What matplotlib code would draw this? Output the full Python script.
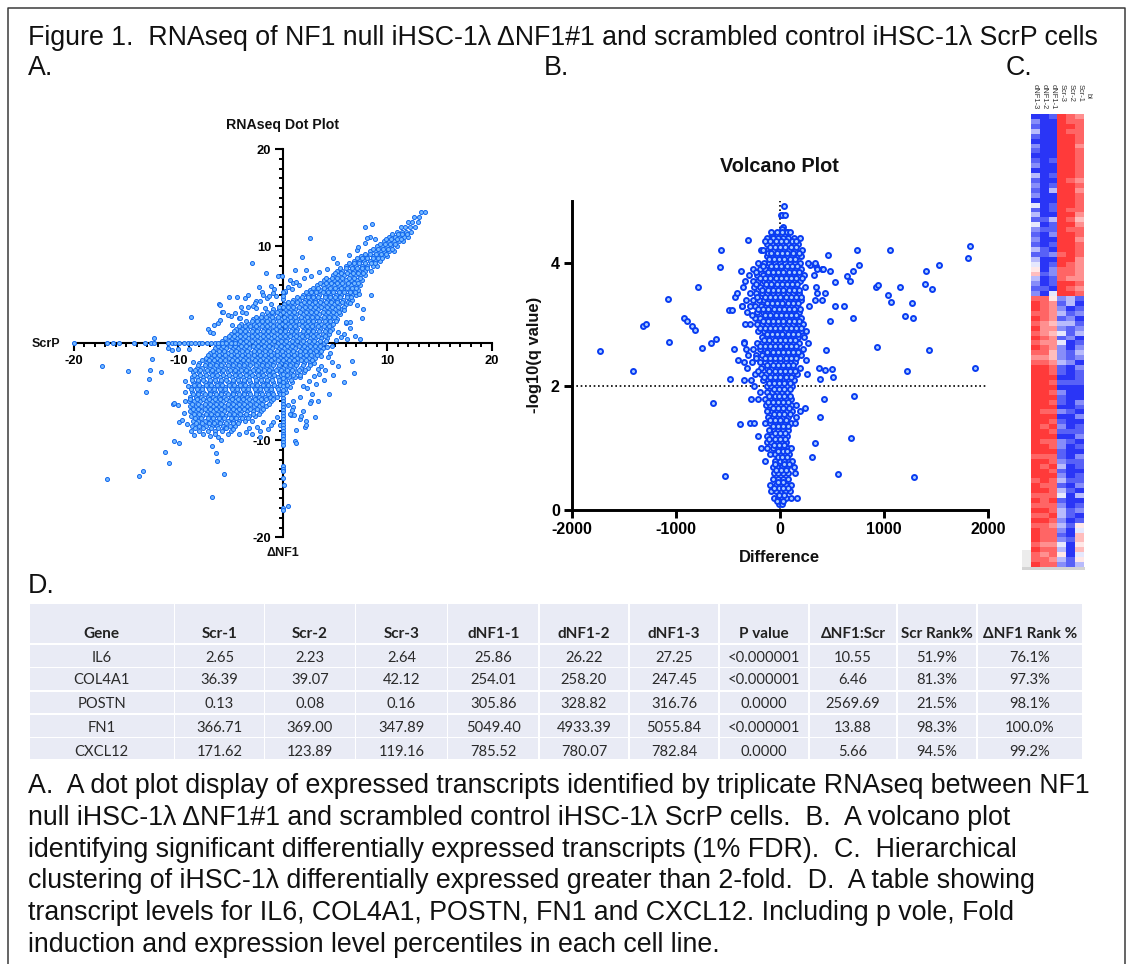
#! /usr/bin/env python

# figure panel: dot plot, volcano plot, heatmap and table
import numpy as np
import matplotlib
matplotlib.use("Agg")
import matplotlib.pyplot as plt
from matplotlib.colors import LinearSegmentedColormap
from matplotlib.patches import Rectangle
from matplotlib.ticker import FixedLocator

W, H = 1130, 964

# dot plot: dense cloud, one list of x per row of y
cloud_y = [13.5, 13, 12.5, 12, 11.5, 11, 10.5, 10, 9.5, 9, 8.5, 8, 7.5, 7, 6.5, 6, 5.5, 5, 4.5, 4, 3.5, 3, 2.5, 2,
           1.5, 1, 0.5, 0, -0.5, -1, -1.5, -2, -2.5, -3, -3.5, -4, -4.5, -5, -5.5, -6, -6.5, -7, -7.5, -8, -8.5, -9]
cloud_x = [
    [13.2, 13.6],
    [12.6, 13.0],
    [12.0, 12.4, 12.9],
    [11.3, 11.7, 12.2, 12.7],
    [10.9, 11.4, 11.8, 12.3],
    [10.2, 10.7, 11.1, 11.6, 12.0],
    [9.7, 10.2, 10.6, 11.1, 11.5],
    [9.0, 9.5, 10.0, 10.4, 10.9],
    [8.3, 8.8, 9.3, 9.7, 10.2, 10.6],
    [7.5, 8.0, 8.6, 9.1, 9.6, 10.0],
    [6.8, 7.3, 7.8, 8.3, 8.8, 9.3],
    [6.0, 6.5, 7.0, 7.6, 8.1, 8.6, 9.0],
    [5.2, 5.7, 6.3, 6.8, 7.3, 7.9, 8.4],
    [4.8, 5.3, 5.9, 6.4, 6.9, 7.4, 7.9],
    [3.9, 4.4, 4.9, 5.5, 6.0, 6.5, 7.1, 7.6],
    [3.3, 3.8, 4.3, 4.9, 5.4, 5.9, 6.5, 7.0, 7.4],
    [2.6, 3.1, 3.6, 4.2, 4.7, 5.3, 5.8, 6.3, 6.8, 7.2],
    [1.9, 2.4, 2.9, 3.5, 4.0, 4.5, 5.1, 5.6, 6.1, 6.6, 7.0],
    [1.0, 1.5, 2.1, 2.6, 3.1, 3.7, 4.2, 4.7, 5.2, 5.8, 6.3, 6.6],
    [0.1, 0.6, 1.1, 1.7, 2.2, 2.8, 3.3, 3.8, 4.4, 4.9, 5.4, 6.0],
    [-0.9, -0.4, 0.2, 0.7, 1.2, 1.8, 2.3, 2.9, 3.4, 3.9, 4.4, 5.0, 5.7],
    [-2.0, -1.4, -0.9, -0.3, 0.3, 0.8, 1.3, 1.9, 2.4, 2.9, 3.5, 4.0, 4.5, 5.1, 5.5],
    [-2.9, -2.4, -1.8, -1.3, -0.8, -0.2, 0.4, 0.9, 1.4, 2.0, 2.5, 3.0, 3.6, 4.1, 4.6, 5.2],
    [-4.0, -3.3, -2.8, -2.3, -1.7, -1.2, -0.6, -0.1, 0.5, 1.0, 1.5, 2.1, 2.6, 3.2, 3.7, 4.2, 4.8],
    [-4.5, -3.9, -3.4, -2.9, -2.4, -1.8, -1.3, -0.7, -0.2, 0.3, 0.9, 1.4, 2.0, 2.5, 3.0, 3.6, 4.1, 4.7],
    [-5.0, -4.4, -3.8, -3.3, -2.7, -2.2, -1.6, -1.1, -0.6, 0.0, 0.5, 1.1, 1.6, 2.2, 2.7, 3.2, 3.8, 4.4],
    [-5.5, -4.9, -4.4, -3.8, -3.3, -2.8, -2.2, -1.7, -1.1, -0.6, -0.1, 0.4, 1.0, 1.5, 2.0, 2.6, 3.1, 3.7, 4.2],
    [-6.0, -5.4, -4.8, -4.3, -3.8, -3.2, -2.7, -2.1, -1.6, -1.0, -0.5, 0.1, 0.6, 1.2, 1.7, 2.2, 2.8, 3.3, 3.9],
    [-6.5, -5.9, -5.4, -4.8, -4.3, -3.7, -3.2, -2.6, -2.1, -1.5, -1.0, -0.4, 0.1, 0.7, 1.2, 1.8, 2.3, 2.8, 3.4, 3.8],
    [-7.0, -6.4, -5.8, -5.3, -4.7, -4.2, -3.6, -3.1, -2.5, -2.0, -1.4, -0.9, -0.3, 0.2, 0.8, 1.3, 1.9, 2.4, 2.9, 3.5],
    [-7.4, -6.9, -6.3, -5.8, -5.2, -4.7, -4.1, -3.6, -3.0, -2.5, -1.9, -1.4, -0.8, -0.3, 0.3, 0.8, 1.4, 1.9, 2.5, 3.1],
    [-8.0, -7.4, -6.8, -6.3, -5.7, -5.2, -4.6, -4.1, -3.5, -3.0, -2.4, -1.9, -1.3, -0.8, -0.2, 0.3, 0.9, 1.4, 2.0, 2.6, 3.0],
    [-8.2, -7.7, -7.1, -6.6, -6.0, -5.5, -4.9, -4.4, -3.8, -3.3, -2.7, -2.2, -1.6, -1.1, -0.5, 0.0, 0.6, 1.1, 1.7, 2.4],
    [-8.6, -8.0, -7.5, -6.9, -6.4, -5.8, -5.3, -4.7, -4.2, -3.6, -3.1, -2.5, -2.0, -1.4, -0.9, -0.3, 0.2, 0.8, 1.4, 2.0],
    [-8.7, -8.2, -7.6, -7.1, -6.5, -6.0, -5.4, -4.9, -4.3, -3.8, -3.2, -2.7, -2.1, -1.6, -1.0, -0.5, 0.1, 0.6, 1.2, 1.6],
    [-8.6, -8.1, -7.5, -7.0, -6.4, -5.9, -5.3, -4.8, -4.2, -3.7, -3.1, -2.6, -2.0, -1.5, -0.9, -0.4, 0.3, 0.9],
    [-8.8, -8.3, -7.7, -7.2, -6.6, -6.1, -5.5, -5.0, -4.4, -3.9, -3.3, -2.8, -2.2, -1.7, -1.1, -0.6, 0.1, 0.7],
    [-8.7, -8.1, -7.6, -7.0, -6.5, -5.9, -5.4, -4.8, -4.3, -3.7, -3.2, -2.6, -2.1, -1.5, -1.0, -0.4, 0.3],
    [-8.9, -8.3, -7.8, -7.2, -6.7, -6.1, -5.6, -5.0, -4.5, -3.9, -3.4, -2.8, -2.3, -1.7, -1.2, -0.6],
    [-9.0, -8.5, -7.9, -7.4, -6.8, -6.3, -5.7, -5.2, -4.6, -4.1, -3.5, -3.0, -2.4, -1.9, -1.1],
    [-8.9, -8.3, -7.8, -7.2, -6.7, -6.1, -5.6, -5.0, -4.5, -3.9, -3.4, -2.8, -2.3, -1.6],
    [-8.9, -8.4, -7.8, -7.3, -6.7, -6.2, -5.6, -5.1, -4.5, -4.0, -3.4, -2.9, -2.1],
    [-8.8, -8.2, -7.7, -7.1, -6.6, -6.0, -5.5, -4.9, -4.4, -3.8, -3.2, -2.7],
    [-8.6, -8.1, -7.5, -7.0, -6.4, -5.9, -5.3, -4.8, -4.2, -3.6, -3.0],
    [-8.7, -8.0, -7.4, -6.8, -6.3, -5.7, -5.1, -4.6],
    [-8.8, -8.0, -7.2, -6.5, -5.8, -5.0],
]
# the same cloud read again between those rows
cloud2_y = [11.25, 10.75, 10.25, 9.75, 9.25, 8.75, 8.25, 7.75, 7.25, 6.75, 6.25, 5.75, 5.25, 4.75, 4.25, 3.75, 3.25, 2.75,
            2.25, 1.75, 1.25, 0.75, 0.25, -0.25, -0.75, -1.25, -1.75, -2.25, -2.75, -3.25, -3.75, -4.25, -4.75, -5.25,
            -5.75, -6.25, -6.75, -7.25, -7.75, -8.25, -8.75]
cloud2_x = [
    [10.5, 11.0, 11.4, 11.9],
    [9.9, 10.4, 10.9, 11.3],
    [9.3, 9.8, 10.3, 10.7],
    [8.6, 9.1, 9.6, 10.1, 10.5],
    [7.9, 8.3, 8.9, 9.4, 9.9],
    [7.1, 7.6, 8.1, 8.6, 9.1, 9.5],
    [6.3, 6.8, 7.3, 7.9, 8.4, 8.8],
    [5.5, 6.0, 6.6, 7.1, 7.6, 8.1],
    [5.0, 5.6, 6.1, 6.7, 7.2, 7.7],
    [4.1, 4.7, 5.2, 5.7, 6.3, 6.8, 7.4],
    [3.6, 4.1, 4.6, 5.2, 5.7, 6.2, 6.8, 7.2],
    [2.9, 3.4, 3.9, 4.5, 5.0, 5.6, 6.1, 6.6, 7.0],
    [2.2, 2.7, 3.2, 3.8, 4.3, 4.8, 5.4, 5.9, 6.4, 6.9],
    [1.4, 1.8, 2.4, 2.9, 3.4, 4.0, 4.5, 5.0, 5.5, 6.1, 6.5],
    [0.5, 0.9, 1.4, 2.0, 2.5, 3.1, 3.6, 4.1, 4.6, 5.2, 5.7, 6.2],
    [-0.4, 0.0, 0.5, 1.0, 1.5, 2.1, 2.6, 3.1, 3.7, 4.2, 4.7, 5.3, 5.9],
    [-1.5, -1.0, -0.6, 0.0, 0.6, 1.1, 1.6, 2.2, 2.7, 3.2, 3.8, 4.3, 4.8, 5.4],
    [-2.6, -2.1, -1.6, -1.0, -0.5, 0.1, 0.7, 1.2, 1.7, 2.3, 2.8, 3.3, 3.9, 4.4, 4.9],
    [-3.5, -3.0, -2.5, -2.0, -1.5, -0.9, -0.4, 0.2, 0.8, 1.3, 1.8, 2.4, 2.9, 3.5, 4.0, 4.5, 5.1],
    [-4.2, -3.6, -3.1, -2.6, -2.0, -1.5, -0.9, -0.4, 0.2, 0.7, 1.2, 1.8, 2.3, 2.8, 3.4, 3.9, 4.4],
    [-4.7, -4.1, -3.6, -3.0, -2.5, -1.9, -1.4, -0.9, -0.3, 0.2, 0.8, 1.3, 1.9, 2.4, 2.9, 3.5, 4.0, 4.5],
    [-5.2, -4.7, -4.1, -3.6, -3.0, -2.5, -1.9, -1.4, -0.8, -0.3, 0.2, 0.7, 1.3, 1.8, 2.3, 2.9, 3.4, 4.0],
    [-5.8, -5.2, -4.6, -4.1, -3.5, -3.0, -2.4, -1.9, -1.3, -0.8, -0.2, 0.3, 0.9, 1.4, 1.9, 2.5, 3.0, 3.6, 4.1],
    [-6.2, -5.7, -5.1, -4.6, -4.0, -3.5, -2.9, -2.4, -1.8, -1.3, -0.7, -0.2, 0.4, 0.9, 1.5, 2.0, 2.6, 3.1, 3.6],
    [-6.7, -6.1, -5.6, -5.0, -4.5, -3.9, -3.4, -2.8, -2.3, -1.7, -1.2, -0.6, -0.1, 0.5, 1.0, 1.6, 2.1, 2.6, 3.2, 3.7],
    [-7.2, -6.6, -6.1, -5.5, -5.0, -4.4, -3.9, -3.3, -2.8, -2.2, -1.7, -1.1, -0.6, 0.0, 0.5, 1.1, 1.6, 2.2, 2.7, 3.3],
    [-7.7, -7.1, -6.6, -6.0, -5.5, -4.9, -4.4, -3.8, -3.3, -2.7, -2.2, -1.6, -1.1, -0.5, 0.0, 0.6, 1.1, 1.7, 2.2, 2.8],
    [-8.1, -7.5, -7.0, -6.4, -5.9, -5.3, -4.8, -4.2, -3.7, -3.1, -2.6, -2.0, -1.5, -0.9, -0.4, 0.2, 0.7, 1.3, 1.9, 2.6],
    [-8.4, -7.9, -7.3, -6.8, -6.2, -5.7, -5.1, -4.6, -4.0, -3.5, -2.9, -2.4, -1.8, -1.3, -0.7, -0.2, 0.4, 0.9, 1.5, 2.1],
    [-8.5, -7.9, -7.4, -6.8, -6.3, -5.7, -5.2, -4.6, -4.1, -3.5, -3.0, -2.4, -1.9, -1.3, -0.8, -0.2, 0.4, 1.0, 1.6],
    [-8.7, -8.1, -7.6, -7.0, -6.5, -5.9, -5.4, -4.8, -4.3, -3.7, -3.2, -2.6, -2.1, -1.5, -1.0, -0.4, 0.2, 0.8],
    [-8.5, -8.0, -7.4, -6.9, -6.3, -5.8, -5.2, -4.7, -4.1, -3.6, -3.0, -2.5, -1.9, -1.4, -0.8, -0.3, 0.4],
    [-8.8, -8.2, -7.7, -7.1, -6.6, -6.0, -5.5, -4.9, -4.4, -3.8, -3.3, -2.7, -2.2, -1.6, -1.1, -0.5, 0.2],
    [-8.6, -8.1, -7.5, -7.0, -6.4, -5.9, -5.3, -4.8, -4.2, -3.7, -3.1, -2.6, -2.0, -1.4, -0.9, -0.3],
    [-8.9, -8.2, -7.6, -7.1, -6.5, -6.0, -5.4, -4.9, -4.3, -3.8, -3.2, -2.7, -2.1, -1.6, -0.9],
    [-8.7, -8.1, -7.5, -7.0, -6.4, -5.9, -5.3, -4.8, -4.2, -3.7, -3.1, -2.6, -2.0, -1.3],
    [-8.6, -8.1, -7.5, -7.0, -6.4, -5.9, -5.3, -4.8, -4.2, -3.7, -3.1, -2.5, -1.9],
    [-8.5, -8.0, -7.4, -6.9, -6.3, -5.8, -5.2, -4.7, -4.1, -3.5, -2.9, -2.3],
    [-8.4, -7.8, -7.2, -6.7, -6.1, -5.6, -5.0, -4.5, -3.9, -3.3],
    [-8.3, -7.7, -7.1, -6.6, -6.0, -5.4, -4.8, -4.3],
    [-8.4, -7.6, -6.9, -6.2, -5.5],
]
# dot plot: scattered points round the cloud
dot_out_x = [2.6, 1.8, -3.0, -1.6, 1.2, 2.2, 4.8, 7.9, 8.5, 8.3, 8.1, 7.1, 7.7, 7.6, 8.4, 7.4, 6.9, 6.4, 6.1, -8.8, -12.3,
             -5.2, -4.4, -3.6, -3.3, -6.1, -6.0, -5.8, -5.7, -7.2, -7.0, -6.7, -2.3, -2.0, -1.1, -0.1, -0.5, 0.7, 1.5, -2.9,
             -1.5, -4.0, -2.6, -3.5, -5.0, -6.2, -17.3, -14.8, -12.5, -12.7, -12.8, -13.1, -11.7, -11.0, -10.6, -10.0, -9.0,
             -10.5, -10.4, -10.0, -9.4, -9.9, -9.7, -10.4, -9.9, -11.3, -10.9, -13.4, -13.8, -16.8, -6.8, -5.6, -6.3, -6.4,
             -6.8, -5.9, -7.0, -6.2, 0.5, 0.1, 1.2, 1.3, 1.3, 2.1, 2.2, 1.6, 1.9, 2.7, 3.4, 4.4, 2.8, 5.9, 6.8, 6.6, 5.3, 4.8,
             3.9, 4.5, 4.7, 3.7, 4.0, -0.9, -1.4, -2.5, -3.5, -4.8, 3.2, 2.6, 1.0, 0.8, 2.3, 3.5, 4.2, 5.1, 5.9, 6.0, 6.4,
             1.0, 0.5, 0.2, -0.8, -1.9, -2.6, -3.9, -4.2, -4.9, -0.7, -1.1, -1.7, 0.9, 1.7, -0.3, -3.0, -2.2, -5.4, 2.2, 3.1,
             -6.6, -6.0, -5.3, -4.6, -4.1, -3.3, -2.7, -2.2, -1.3, -0.9, 0.2, 0.9, 1.3, 2.0, 2.7, 3.5, 4.2, 5.2, 6.3, 7.2, 7.9, 8.8,
             5.9, 6.4, 7.1, 7.3, 6.0, 5.3, 5.6, 4.7, 4.3, 3.7, 3.4, 3.0, 2.5, 1.9, 1.6, 1.0, 0.5, 0.7, 1.1, -0.6, -1.1, -1.9, -2.2,
             -3.2, -4.2, -5.3, -6.5, -7.6, -8.5, -9.4, -9.1, -9.4, -9.5, -9.2, -8.9, -8.6]
dot_out_y = [10.9, 8.9, 8.3, 7.2, 7.6, 7.6, 8.8, 12.0, 12.3, 11.0, 10.9, 9.6, 3.5, 2.6, 5.0, 0.4, 0.8, 1.6, 0.4, 2.7, 0.55,
             4.8, 4.8, 4.7, 5.0, 4.0, 3.9, 3.2, 3.2, 1.5, 1.2, 1.1, 5.8, 5.3, 5.9, 6.9, 6.9, 6.5, 6.0, 3.8,
             4.7, 3.7, 3.6, 3.1, 2.8, 2.1, -2.3, -2.9, -1.6, -2.8, -3.7, -5.0, -3.0, -0.5, -0.7, -0.6, -0.6,
             -6.3, -6.2, -6.4, -5.0, -8.1, -7.9, -10.1, -10.3, -11.2, -12.3, -13.2, -13.7, -14.0, -15.8, -13.5, -12.1, -11.3,
             -10.6, -10.0, -9.6, -9.7, -16.8, -14.6, -10.1, -10.3, -8.9, -8.6, -8.0, -7.8, -7.0, -5.9, -5.9, -5.2, -5.2, -4.0, -3.1, -1.8, -2.3, -3.3,
             -3.8, -1.0, -1.9, -2.3, -2.8, -8.1, -8.8, -8.6, -9.1, -8.8, -4.2, -6.2, -6.6, -7.4, -4.6, -3.2, -0.4, 0.3, 1.0, 2.1, 2.2,
             6.2, 5.8, 5.3, 5.6, 5.0, 4.4, 3.2, 2.6, 1.9, 4.9, 4.1, 3.6, -6.9, -7.5, -8.4, -9.4, -9.7, -8.7, -8.4, -7.6,
             1.9, 2.4, 2.9, 3.1, 2.6, 3.7, 4.2, 4.4, 4.9, 5.2, 5.4, 5.6, 6.3, 6.7, 6.9, 7.4, 7.7, 8.3, 9.1, 9.9, 10.3, 10.8,
             3.4, 4.2, 3.9, 5.1, 2.2, 1.2, 0.6, -0.3, -1.4, -1.3, -2.6, -3.4, -3.9, -4.4, -5.5, -6.0, -6.4, -7.3, -7.4, -7.6, -8.4, -8.1, -9.0,
             -8.7, -9.3, -9.4, -9.4, -9.3, -9.5, -3.9, -4.4, -6.0, -7.2, -8.3, -2.6, -1.9]
# points sitting on the two axes
xaxis_pts = [-20, -16.8, -16.3, -15.7, -14.3, -13.2, -12.6, -12.3, -11.0, -10.6, -10.3, -9.9, -9.5, -9.1, -8.8, -8.4, -8.0,
             -7.7, -7.3, -6.9, -6.5, -6.2, -5.8, -5.4, -5.0, -4.6]
yaxis_pts = [-3.2, -3.6, -4.0, -4.4, -4.8, -5.2, -5.6, -6.0, -6.3, -6.6, -6.9, -7.2, -7.5, -7.8, -8.1, -8.4, -8.7, -9.0,
             -9.3, -9.6, -9.9, -10.2, -10.5, -12.7, -13.0, -13.2, -13.9, -17.0, -17.2, 4.6, 4.9, 5.3]

# volcano plot: central column, one list of x per row of y
volc_y = [0.1, 0.2, 0.3, 0.4, 0.5, 0.6, 0.7, 0.8, 0.9, 1.0, 1.1, 1.2, 1.3, 1.4, 1.5, 1.6, 1.7, 1.8, 1.9, 2.0, 2.1, 2.2,
          2.3, 2.4, 2.5, 2.6, 2.7, 2.8, 2.9, 3.0, 3.1, 3.2, 3.3, 3.4, 3.5, 3.6, 3.7, 3.8, 3.9, 4.0, 4.1, 4.2, 4.3, 4.4, 4.5]
volc_x = [
    [-15, 12],
    [-60, -25, 20, 55, 105, 160],
    [-85, -40, 5, 45, 90],
    [-95, -45, 0, 50, 105],
    [-70, -25, 25, 70],
    [-60, -20, 30, 75, 140],
    [-75, -30, 15, 60, 135],
    [-150, -50, -5, 40, 115],
    [-95, -50, 0, 45, 85],
    [-190, -125, -75, -25, 25, 75, 105],
    [-130, -85, -40, 10, 55],
    [-215, -125, -80, -30, 15, 65],
    [-110, -65, -20, 30, 70],
    [-290, -255, -145, -95, -50, 0, 45, 100, 140],
    [-120, -70, -25, 25, 75, 150],
    [-125, -80, -30, 15, 65, 110, 190],
    [-140, -95, -45, 5, 50, 100, 155],
    [-280, -215, -145, -95, -50, 0, 50, 100],
    [-195, -130, -80, -35, 15, 65],
    [-250, -130, -85, -35, 15, 65, 115],
    [-345, -285, -165, -115, -65, -15, 35, 85, 130],
    [-240, -190, -140, -90, -40, 10, 60, 110, 160],
    [-320, -185, -130, -80, -30, 20, 70, 125, 185],
    [-345, -270, -200, -150, -100, -50, 0, 50, 100, 145],
    [-310, -235, -175, -125, -75, -25, 25, 75, 125, 200],
    [-330, -260, -200, -150, -100, -50, 0, 50, 100, 155, 220],
    [-350, -225, -175, -125, -75, -25, 25, 75, 125, 175, 270],
    [-180, -130, -80, -30, 20, 70, 120, 170, 225],
    [-210, -155, -105, -55, -5, 45, 95, 145, 195, 250],
    [-340, -290, -225, -175, -125, -75, -25, 25, 75, 125, 175, 215],
    [-245, -195, -145, -95, -45, 5, 55, 105, 155, 200],
    [-325, -225, -170, -120, -70, -20, 30, 80, 130, 180],
    [-370, -295, -240, -190, -140, -90, -40, 10, 60, 110, 160, 280],
    [-330, -260, -205, -155, -105, -55, -5, 45, 95, 145, 195, 330, 400],
    [-420, -295, -235, -175, -125, -75, -25, 25, 75, 125, 175, 350, 430],
    [-355, -250, -195, -145, -95, -45, 5, 55, 105, 155, 235, 345],
    [-340, -265, -210, -160, -110, -60, -10, 40, 90, 140, 190],
    [-300, -220, -170, -120, -70, -20, 30, 80, 130, 180, 230, 320],
    [-260, -195, -145, -95, -45, 5, 55, 105, 155, 200, 350, 415],
    [-215, -155, -105, -55, -5, 45, 95, 145, 190, 270, 330],
    [-130, -85, -35, 15, 65, 115, 170, 200],
    [-190, -170, -115, -65, -15, 35, 85, 140, 205],
    [-130, -80, -30, 20, 70, 120, 170],
    [-125, -70, -25, 25, 75, 135, 185],
    [-85, -30, 20, 60, 90],
]
# column read again between those rows, mostly the crowded middle
volc2_y = [0.15, 0.25, 0.35, 0.45, 0.65, 0.75, 0.85, 0.95, 1.05, 1.15, 1.25, 1.35, 1.45, 1.55, 1.65, 1.75, 1.85, 1.95, 2.05, 2.15,
           2.25, 2.35, 2.45, 2.55, 2.65, 2.75, 2.85, 2.95, 3.05, 3.15, 3.25, 3.35, 3.45, 3.55, 3.65, 3.75, 3.85, 3.95, 4.05, 4.15, 4.25, 4.35]
volc2_x = [
    [-30, 30],
    [-10, 35],
    [-60, -15, 30, 75],
    [-25, 30],
    [-45, 5, 50],
    [-50, 40, 85],
    [-25, 20, 65],
    [-25, 25, 60],
    [-60, -10, 35],
    [-105, -55, -5, 45],
    [-55, -5, 45],
    [-75, -25, 25, 70],
    [-100, -50, 0, 50],
    [-60, -10, 40, 90],
    [-70, -20, 30, 80],
    [-120, -70, -20, 30, 75],
    [-110, -55, -10, 40, 90],
    [-60, -10, 40, 95],
    [-110, -60, -10, 40, 90],
    [-160, -100, -50, 0, 50, 100],
    [-215, -110, -55, -5, 45, 95, 140],
    [-125, -75, -25, 25, 75, 125],
    [-230, -150, -100, -50, 0, 50, 100, 150],
    [-125, -75, -25, 25, 75, 125, 170],
    [-200, -150, -100, -50, 0, 50, 100, 150],
    [-155, -105, -55, -5, 45, 95, 145],
    [-130, -80, -30, 20, 70, 120, 170],
    [-200, -150, -100, -50, 0, 50, 100, 150, 200],
    [-170, -120, -70, -20, 30, 80, 130, 180],
    [-270, -145, -95, -45, 5, 55, 105, 155],
    [-215, -165, -115, -65, -15, 35, 85, 135, 185],
    [-130, -80, -30, 20, 70, 120, 170],
    [-225, -150, -100, -50, 0, 50, 100, 150, 200],
    [-175, -120, -70, -20, 30, 80, 130, 180],
    [-235, -135, -85, -35, 15, 65, 115, 165],
    [-195, -145, -95, -45, 5, 55, 105, 155, 205],
    [-230, -120, -70, -20, 30, 80, 130, 175],
    [-170, -90, -40, 10, 60, 110, 160],
    [-105, -60, -10, 40, 90, 145],
    [-120, -85, -35, 15, 65, 120, 180],
    [-100, -55, -5, 45, 100, 150],
    [-145, -100, -45, 5, 50, 110, 155],
]
# volcano plot: scattered points and the few above the column
volc_out_x = [-1731, -1420, -1317, -1292, -1077, -1074, -923, -901, -846, -817, -792, -753, -667, -615, -644, -580, -567,
              -532, -490, -462, -442, -487, -391, -404, -433, -381, -308, -369, -353, 1821, 1801, 1529, 1404, 1394, 1455, 1051, 737, 756, 702,
              641, 673, 529, 462, 474, 923, 936, 1035, 1064, 1151, 1263, 1196, 1276, 699, 612, 522, 481, 926, 1426, 1875, 1215,
              442, 500, 426, 506, 381, 372, 260, 250, 417, 705, 385, 683, 333, 304, 558, 1285, 237, 35, 5, 20, 45, 400, 345, 290,
              -83, 30, 60, 15]
volc_out_y = [2.57, 2.24, 2.98, 3.01, 3.41, 2.72, 3.10, 3.05, 2.98, 2.91, 3.61, 2.62, 2.70, 2.76, 1.73, 3.93, 4.21,
              0.55, 3.24, 3.23, 2.61, 2.12, 1.39, 2.42, 3.45, 3.86, 4.37, 3.30, 2.71, 4.26, 4.07, 3.96, 3.86, 3.66, 3.58, 4.20, 4.20, 3.96, 3.87,
              3.79, 3.70, 3.69, 4.12, 3.87, 3.60, 3.63, 3.47, 3.37, 3.61, 3.35, 3.13, 3.11, 3.11, 3.30, 3.30, 3.06, 2.64, 2.58, 2.30, 2.24,
              2.58, 2.28, 2.26, 2.15, 2.11, 2.30, 2.20, 2.43, 1.80, 1.85, 1.51, 1.16, 1.09, 0.86, 0.59, 0.54, 1.65, 4.92, 4.77, 4.77, 4.77, 3.90, 3.94, 3.96,
              4.45, 4.58, 4.5, 4.55]

# heatmap rows, 0 = full blue, 9 = full red, columns dNF1-3 .. Scr-1
heat_labels = ["dNF1-3", "dNF1-2", "dNF1-1", "Scr-3", "Scr-2", "Scr-1"]
heat_rows = [
    "001987", "200988", "100998", "300988", "100998", "000998", "200997", "100998", "000998", "101998", "200998", "000998",
    "301998", "100987", "201998", "103997", "200998", "000998", "401998", "101988", "300997", "113986", "401997", "211988",
    "102998", "200997", "101998", "310998", "112898", "300997", "401987", "502887", "612887", "301877", "201998", "110987", "204998",
    "885231", "987130", "987201", "887312", "987120", "876331", "977212", "876413", "987120", "877401", "987202", "886213",
    "776212", "887320", "998102", "998101", "999001", "998111", "999000", "998200", "999100", "998102", "999001", "988210", "999002",
    "998100", "989201", "998111", "999002", "988210", "998201", "999100", "888102", "998211", "989301", "998100", "999201", "898311",
    "988102", "998310", "888403", "989100", "888201", "998312", "889310", "998201", "887315", "988204", "988106", "988216", "877405",
    "988306", "878504", "887315", "988213",
]

# table
table_cols = ["Gene", "Scr-1", "Scr-2", "Scr-3", "dNF1-1", "dNF1-2", "dNF1-3", "P value", "ΔNF1:Scr", "Scr Rank%", "ΔNF1 Rank %"]
table_genes = ["IL6", "COL4A1", "POSTN", "FN1", "CXCL12"]
scr1 = ["2.65", "36.39", "0.13", "366.71", "171.62"]
scr2 = ["2.23", "39.07", "0.08", "369.00", "123.89"]
scr3 = ["2.64", "42.12", "0.16", "347.89", "119.16"]
dnf1 = ["25.86", "254.01", "305.86", "5049.40", "785.52"]
dnf2 = ["26.22", "258.20", "328.82", "4933.39", "780.07"]
dnf3 = ["27.25", "247.45", "316.76", "5055.84", "782.84"]
pval = ["<0.000001", "<0.000001", "0.0000", "<0.000001", "0.0000"]
ratio = ["10.55", "6.46", "2569.69", "13.88", "5.66"]
scr_rank = ["51.9%", "81.3%", "21.5%", "98.3%", "94.5%"]
dnf_rank = ["76.1%", "97.3%", "98.1%", "100.0%", "99.2%"]

title = "Figure 1.  RNAseq of NF1 null iHSC-1λ ΔNF1#1 and scrambled control iHSC-1λ ScrP cells"
caption = [
    "A.  A dot plot display of expressed transcripts identified by triplicate RNAseq between NF1",
    "null iHSC-1λ ΔNF1#1 and scrambled control iHSC-1λ ScrP cells.  B.  A volcano plot",
    "identifying significant differentially expressed transcripts (1% FDR).  C.  Hierarchical",
    "clustering of iHSC-1λ differentially expressed greater than 2-fold.  D.  A table showing",
    "transcript levels for IL6, COL4A1, POSTN, FN1 and CXCL12. Including p vole, Fold",
    "induction and expression level percentiles in each cell line.",
]

plt.rcParams['font.family'] = ['Liberation Sans', 'DejaVu Sans']
plt.rcParams['axes.unicode_minus'] = False
fig = plt.figure(figsize=(W / 100, H / 100), dpi=100)


def px_axes(left, top, right, bottom):
    return fig.add_axes([left / W, 1 - bottom / H, (right - left) / W, (bottom - top) / H])


def flatten(ys, rows):
    xs = [v for row in rows for v in row]
    yy = [y for y, row in zip(ys, rows) for v in row]
    return xs, yy


# page layer in pixel coordinates, for text, frame and table
page = fig.add_axes([0, 0, 1, 1], zorder=0)
page.set_xlim(0, W)
page.set_ylim(H, 0)
page.axis('off')

page.plot([8, 8, 1125, 1125], [H, 8, 8, H], color='#3a3a3a', lw=1.1)
page.text(28, 38, title, fontsize=19.3, va='center', color='#111111')
for lab, lx, ly in [("A.", 28, 68), ("B.", 544, 68), ("C.", 1006, 68), ("D.", 28, 586)]:
    page.text(lx, ly, lab, fontsize=19.3, va='center', color='#111111')
for line, ly in zip(caption, [786, 818, 850, 881, 913, 945]):
    page.text(28, ly, line, fontsize=19.3, va='center', color='#111111')

# table drawn as cells
col_edges = [29, 174.5, 264.5, 355.5, 447.5, 539, 629, 719, 809, 897, 977, 1083]
row_edges = [603, 644, 667.5, 691, 714, 737.5, 760]
row_text = [634, 657.5, 680.5, 704.5, 728, 752]
table_data = [table_genes, scr1, scr2, scr3, dnf1, dnf2, dnf3, pval, ratio, scr_rank, dnf_rank]
for j, (name, values) in enumerate(zip(table_cols, table_data)):
    cx = (col_edges[j] + col_edges[j + 1]) / 2
    for i in range(6):
        page.add_patch(Rectangle((col_edges[j] + 0.7, row_edges[i] + 0.7), col_edges[j + 1] - col_edges[j] - 1.4,
                                 row_edges[i + 1] - row_edges[i] - 1.4, fc='#E9EBF5', ec='none'))
    page.text(cx, row_text[0], name, ha='center', va='center', fontsize=11, fontweight='bold',
              family=['Lato', 'DejaVu Sans'], color='#222222')
    for i, v in enumerate(values):
        page.text(cx, row_text[i + 1], v, ha='center', va='center', fontsize=10.6,
                  family=['Lato', 'DejaVu Sans'], color='#2a2a2a')

# A. dot plot with axes crossing at zero
ax1 = px_axes(74, 149.3, 491.7, 537.3)
ax1.set_xlim(-20, 20)
ax1.set_ylim(-20, 20)
ax1.patch.set_alpha(0)
for s in ['top', 'right']:
    ax1.spines[s].set_visible(False)
for s in ['left', 'bottom']:
    ax1.spines[s].set_position('zero')
    ax1.spines[s].set_linewidth(1.5)
ticks = [-20, -10, 10, 20]
for axis in [ax1.xaxis, ax1.yaxis]:
    axis.set_major_locator(FixedLocator(ticks))
    axis.set_minor_locator(FixedLocator(np.arange(-20, 21)))
ax1.set_xticklabels([str(t) for t in ticks])
ax1.set_yticklabels([str(t) for t in ticks])
ax1.tick_params(which='major', length=5.5, width=1.5, labelsize=9.3, pad=3)
ax1.tick_params(which='minor', length=3, width=1.4)
for lab in ax1.get_xticklabels() + ax1.get_yticklabels():
    lab.set_fontweight('bold')

dot_style = dict(ls='none', marker='o', ms=2.9, mew=0.7, mfc='#74b8ff', mec='#1268ee', clip_on=False, zorder=3)
ax1.plot(*flatten(cloud_y, cloud_x), **dot_style)
ax1.plot(*flatten(cloud2_y, cloud2_x), **dot_style)
ax1.plot(dot_out_x, dot_out_y, **dot_style)
ax1.plot(xaxis_pts, [0] * len(xaxis_pts), **dot_style)
ax1.plot([0] * len(yaxis_pts), yaxis_pts, **dot_style)
page.text(283, 125, "RNAseq Dot Plot", ha='center', va='center', fontsize=10.2, fontweight='bold', color='#111111')
page.text(32, 344, "ScrP", ha='left', va='center', fontsize=9, fontweight='bold', color='#111111')
page.text(283, 553, "ΔNF1", ha='center', va='center', fontsize=9, fontweight='bold', color='#111111')

# B. volcano plot
ax2 = px_axes(572.3, 200.7, 988.3, 510)
ax2.set_xlim(-2000, 2000)
ax2.set_ylim(0, 5)
ax2.patch.set_alpha(0)
for s in ['top', 'right']:
    ax2.spines[s].set_visible(False)
for s in ['left', 'bottom']:
    ax2.spines[s].set_linewidth(2.1)
ax2.set_xticks([-2000, -1000, 0, 1000, 2000])
ax2.set_yticks([0, 2, 4])
ax2.tick_params(length=6, width=2.1, labelsize=11.5, pad=3)
for lab in ax2.get_xticklabels() + ax2.get_yticklabels():
    lab.set_fontweight('bold')
ax2.axhline(2, color='black', ls=(0, (1, 1.6)), lw=1.2, zorder=1)
ax2.axvline(0, color='black', ls=(0, (1, 1.6)), lw=1.2, zorder=1)
volc_style = dict(ls='none', marker='o', ms=3.6, mew=1.4, mfc='#a8ccff', mec='#0a3cf2', clip_on=False, zorder=3)
ax2.plot(volc_out_x, volc_out_y, **volc_style)
ax2.plot(*flatten(volc_y, volc_x), **volc_style)
ax2.plot(*flatten(volc2_y, volc2_x), **volc_style)
page.text(779, 167, "Volcano Plot", ha='center', va='center', fontsize=14.3, fontweight='bold', color='#111111')
page.text(779, 558, "Difference", ha='center', va='center', fontsize=12, fontweight='bold', color='#111111')
page.text(535, 355, "-log10(q value)", ha='center', va='center', rotation=90, fontsize=11.9, fontweight='bold', color='#111111')

# C. heatmap
page.add_patch(Rectangle((1022, 550), 10, 20, fc='#ececec', ec='none'))
page.add_patch(Rectangle((1022, 566.5), 63, 3.5, fc='#d4d4d4', ec='none'))
heat = np.array([[int(c) for c in row] for row in heat_rows])
cmap = LinearSegmentedColormap.from_list('br', ['#2a35f6', '#ffffff', '#ff3a3a'])
ax3 = px_axes(1031, 114, 1084, 567)
ax3.imshow(heat, cmap=cmap, vmin=0, vmax=9, aspect='auto', interpolation='nearest')
ax3.axis('off')
for k, lab in enumerate(heat_labels):
    page.text(1035.5 + k * 8.9, 84, lab, rotation=270, ha='center', va='top', fontsize=5.4, color='#333333')
page.text(1088, 96, "bi", rotation=270, ha='center', va='center', fontsize=5.4, color='#333333')

plt.savefig("out.png", dpi=100)
